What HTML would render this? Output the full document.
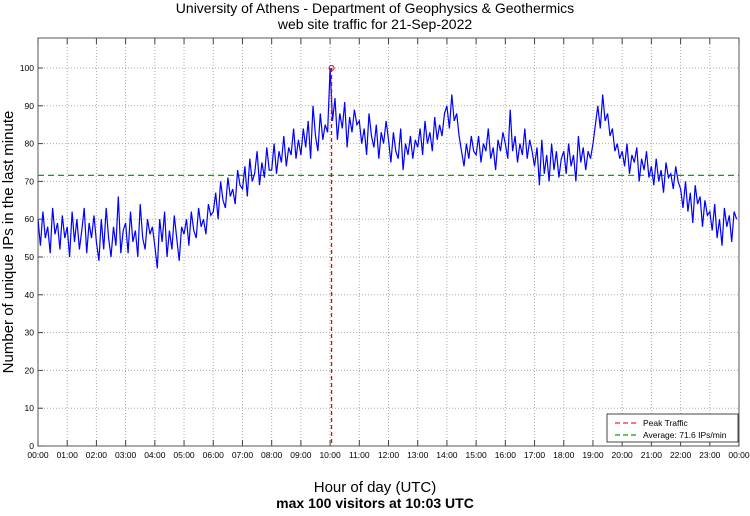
<!DOCTYPE html>
<html><head><meta charset="utf-8"><style>
body{margin:0;background:#fff;width:750px;height:511px;overflow:hidden;font-family:"Liberation Sans",sans-serif}
</style></head><body>
<svg id="c" width="750" height="511" xmlns="http://www.w3.org/2000/svg">
<text x="375" y="13" text-anchor="middle" font-size="14">University of Athens - Department of Geophysics &amp; Geothermics</text>
<text x="375" y="29" text-anchor="middle" font-size="14">web site traffic for 21-Sep-2022</text>
<rect x="38" y="38" width="701" height="408" fill="#fff" stroke="#555"/>
<g id="grid"></g><g id="series"></g><g id="axes"></g>
<text x="375" y="492" text-anchor="middle" font-size="15">Hour of day (UTC)</text>
<text x="375" y="508" text-anchor="middle" font-size="14" font-weight="bold">max 100 visitors at 10:03 UTC</text>
<text transform="translate(13,242) rotate(-90)" text-anchor="middle" font-size="15">Number of unique IPs in the last minute</text>
<g>
<rect x="607" y="414" width="131" height="28" fill="#fff" stroke="#444"/>
<line x1="615" y1="423" x2="638" y2="423" stroke="#f22" stroke-dasharray="5,3" stroke-width="1.3"/>
<text x="643" y="426" font-size="8.5">Peak Traffic</text>
<line x1="615" y1="435" x2="638" y2="435" stroke="#0a0" stroke-dasharray="5,3" stroke-width="1.3"/>
<text x="643" y="438" font-size="8.5">Average: 71.6 IPs/min</text>
</g>
</svg>
<script>
const hourLabels=["00:00","01:00","02:00","03:00","04:00","05:00","06:00","07:00","08:00","09:00","10:00","11:00","12:00","13:00","14:00","15:00","16:00","17:00","18:00","19:00","20:00","21:00","22:00","23:00","00:00"];
const yTicks=[0,10,20,30,40,50,60,70,80,90,100];
const averageValue=71.6;
const peakMinute=603;
const peakValue=100;
const visitors=[
60,53,62,55,58,51,63,56,59,52,61,55,
58,50,62,54,60,52,57,63,51,59,55,61,
54,49,60,52,63,55,50,58,53,66,51,57,
59,51,62,54,57,50,64,55,52,60,56,58,
53,47,60,54,62,50,57,52,61,55,49,58,
56,60,53,62,57,55,63,58,60,56,64,61,
62,67,60,70,65,63,71,66,68,64,73,69,
68,74,66,76,70,72,78,69,75,71,79,73,
73,80,72,78,75,82,74,79,77,84,76,81,
77,84,79,86,76,90,82,78,88,81,85,83,
100,86,92,81,88,84,91,79,87,83,89,85,
86,80,84,77,88,82,79,85,76,83,80,86,
81,75,83,78,76,84,73,80,77,82,76,81,
79,84,77,86,80,83,78,87,81,85,82,88,
90,84,93,86,88,82,78,74,80,76,82,78,
77,82,75,80,78,84,76,79,73,81,78,83,
80,76,89,78,82,75,80,77,84,76,81,78,
74,79,69,81,72,77,70,80,73,78,71,76,
78,72,80,74,77,70,82,75,79,73,78,76,
80,85,90,84,93,86,88,82,84,78,80,76,
78,74,80,72,77,75,79,70,76,73,78,71,
74,69,76,70,73,67,75,71,72,68,74,70,
68,63,70,62,67,59,69,64,66,58,65,61,
62,57,64,55,60,53,63,58,61,54,62,60];
const minutesPerPoint=5;
const NS="http://www.w3.org/2000/svg";
const X0=38,X1=739,Y0=446,Ytop=68;
const xs=m=>X0+(X1-X0)*m/1440;
const ys=v=>Y0-(Y0-Ytop)*v/100;
function mk(tag,attrs,parent){const e=document.createElementNS(NS,tag);for(const k in attrs)e.setAttribute(k,attrs[k]);parent.appendChild(e);return e;}
const grid=document.getElementById('grid'),axes=document.getElementById('axes'),ser=document.getElementById('series');
yTicks.forEach(v=>{
 if(v>0){const l=mk('line',{x1:X0,x2:X1,y1:ys(v),y2:ys(v),stroke:'#aaa','stroke-dasharray':'1,2'},grid);
 
 }
 mk('line',{x1:X0,x2:X0+5,y1:ys(v),y2:ys(v),stroke:'#444'},axes);
 const t=mk('text',{x:X0-4,y:ys(v)+3,'text-anchor':'end','font-size':'8.5'},axes);t.textContent=v;
 
 
});
hourLabels.forEach((h,i)=>{
 const x=xs(i*60);
 if(i>0&&i<24){const l=mk('line',{x1:x,x2:x,y1:38,y2:Y0,stroke:'#aaa','stroke-dasharray':'1,2'},grid);
 
 }
 mk('line',{x1:x,x2:x,y1:Y0,y2:Y0-6,stroke:'#444'},axes);
 mk('line',{x1:x,x2:x,y1:38,y2:44,stroke:'#444'},axes);
 const t=mk('text',{x:x,y:458,'text-anchor':'middle','font-size':'8.5'},axes);t.textContent=h;
 
 
});
const avg=mk('line',{x1:X0,x2:X1,y1:ys(averageValue),y2:ys(averageValue),stroke:'#0a0','stroke-dasharray':'6,4','stroke-width':1.3},ser);


const pts=visitors.map((v,i)=>xs(i*minutesPerPoint).toFixed(1)+','+ys(v).toFixed(1)).join(' ');
const pl=mk('polyline',{points:pts,fill:'none',stroke:'#00f','stroke-width':1.2},ser);


const pk=mk('line',{x1:xs(peakMinute),x2:xs(peakMinute),y1:ys(peakValue),y2:Y0,stroke:'#e00','stroke-dasharray':'4,3','stroke-width':1.3},ser);


const pc=mk('circle',{cx:xs(peakMinute),cy:ys(peakValue),r:2.5,fill:'none',stroke:'#d00'},ser);


</script>
</body></html>
